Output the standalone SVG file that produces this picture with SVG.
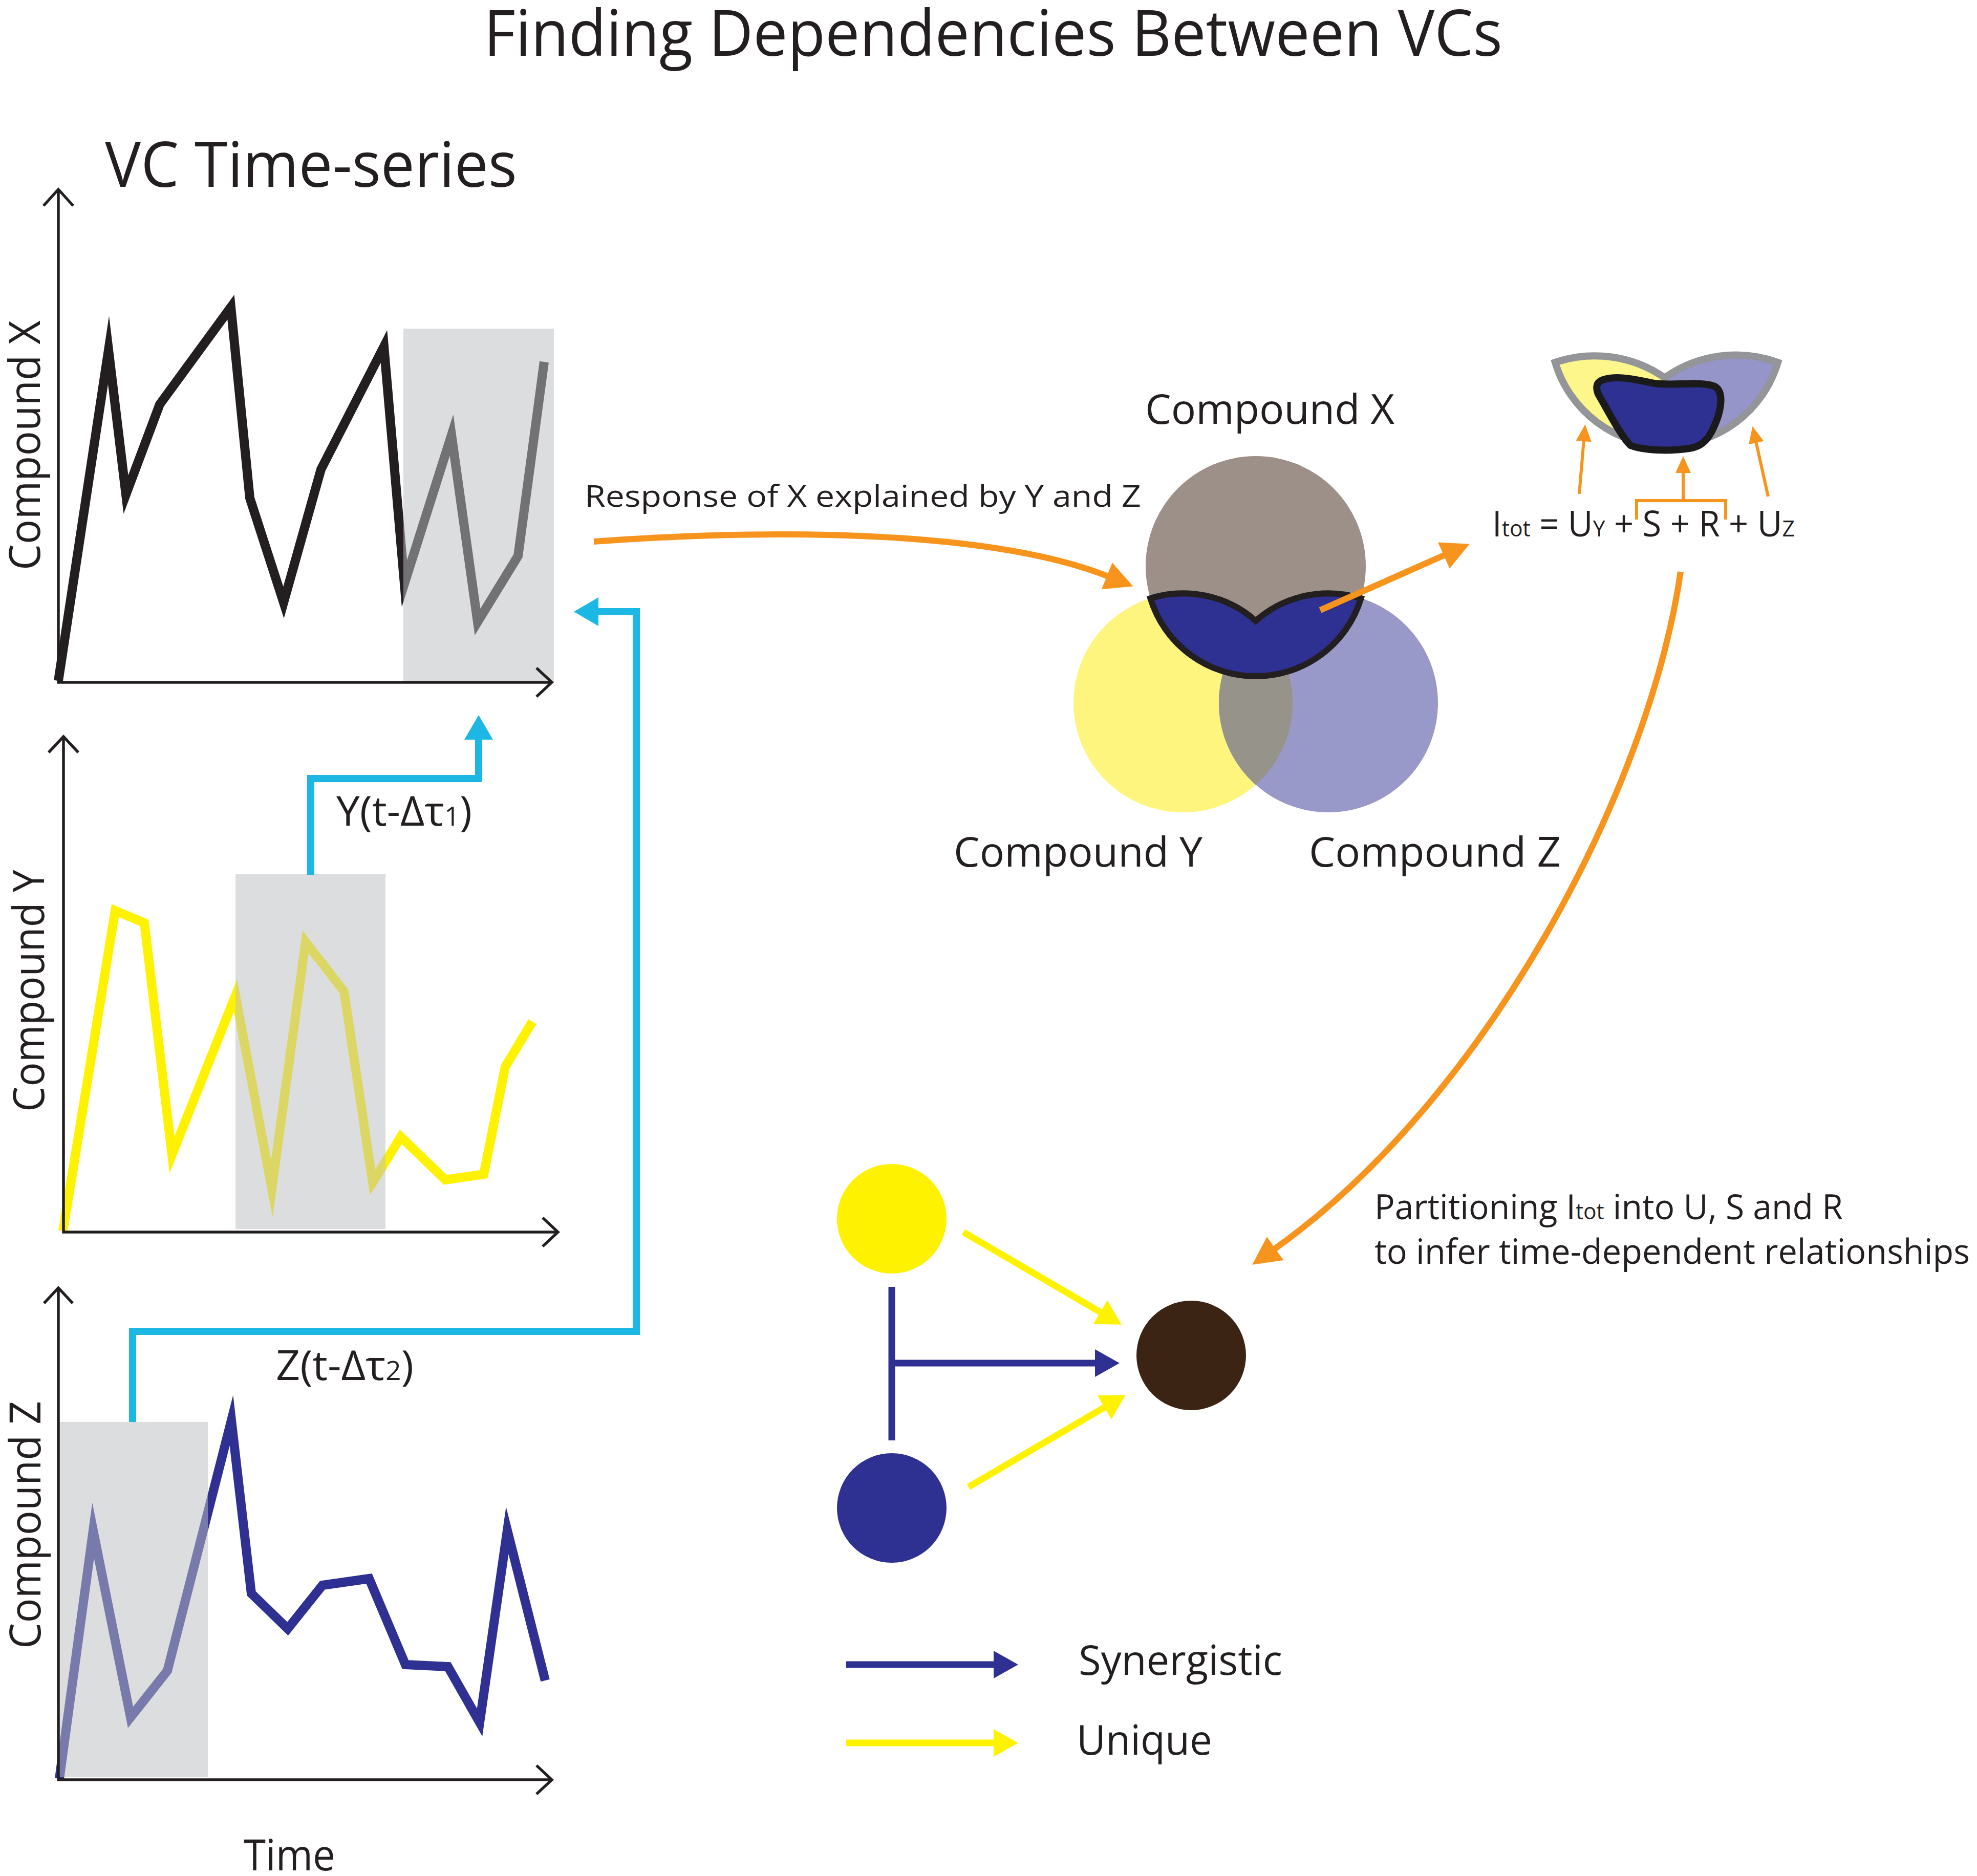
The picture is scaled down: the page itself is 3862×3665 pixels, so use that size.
<svg xmlns="http://www.w3.org/2000/svg" width="3862" height="3665" viewBox="0 0 3862 3665">
<style>
text{font-family:"Open Sans","Liberation Sans",sans-serif;fill:#231f20}
.axis{fill:none;stroke:#231f20;stroke-width:5.5;stroke-linecap:butt;stroke-linejoin:miter}
.series{fill:none;stroke-width:18;stroke-linejoin:miter;stroke-miterlimit:12;stroke-linecap:butt}
.shade{fill:#bcbec2;fill-opacity:0.52}
.cyan{fill:none;stroke:#1cb8e3;stroke-width:14;stroke-linejoin:miter}
.orange{fill:none;stroke:#f7941d;stroke-width:12}
.orange-thin{fill:none;stroke:#f7941d;stroke-width:6}
.syn{fill:none;stroke:#2e3192;stroke-width:13}
.uni{fill:none;stroke:#fff200;stroke-width:13}
</style>
<defs>
<marker id="mOrange" markerUnits="userSpaceOnUse" viewBox="0 -30 60 60" refX="5" refY="0" markerWidth="60" markerHeight="60" orient="auto" overflow="visible"><path d="M0,-28 L55,0 L0,28 Z" fill="#f7941d"/></marker>
<marker id="mOrangeS" markerUnits="userSpaceOnUse" viewBox="0 -16 36 32" refX="3" refY="0" markerWidth="36" markerHeight="32" orient="auto" overflow="visible"><path d="M0,-15 L33,0 L0,15 Z" fill="#f7941d"/></marker>
<marker id="mCyan" markerUnits="userSpaceOnUse" viewBox="0 -30 50 60" refX="3" refY="0" markerWidth="50" markerHeight="60" orient="auto" overflow="visible"><path d="M0,-28 L48,0 L0,28 Z" fill="#1cb8e3"/></marker>
<marker id="mBlue" markerUnits="userSpaceOnUse" viewBox="0 -30 50 60" refX="3" refY="0" markerWidth="50" markerHeight="60" orient="auto" overflow="visible"><path d="M0,-27 L48,0 L0,27 Z" fill="#2e3192"/></marker>
<marker id="mYellow" markerUnits="userSpaceOnUse" viewBox="0 -30 50 60" refX="3" refY="0" markerWidth="50" markerHeight="60" orient="auto" overflow="visible"><path d="M0,-27 L48,0 L0,27 Z" fill="#fff200"/></marker>
<clipPath id="heartClip"><path d="M3038,708 A240 240 0 0 1 3252,738 A240 240 0 0 1 3473,708 A227 227 0 0 1 3038,708 Z"/></clipPath>
</defs>
<rect width="3862" height="3665" fill="#ffffff"/>

<g id="title">
<text x="945" y="109" font-size="124" textLength="1990" lengthAdjust="spacingAndGlyphs">Finding Dependencies Between VCs</text>
<text x="205" y="365" font-size="123" textLength="805" lengthAdjust="spacingAndGlyphs">VC Time-series</text>
</g>

<g id="chart-x">
<polyline class="series" stroke="#231f20" points="114,1330 212,684 246,966 312,790 451,600 488,973 554,1177 627,917 750,677 790,1140 882,850 933,1215 1012,1086 1063,707"/>
<rect class="shade" x="788" y="642" width="294" height="691"/>
<polyline class="axis" points="114,370 114,1333 1078,1333"/>
<polyline class="axis" points="85,402 114,370 143,402"/>
<polyline class="axis" points="1048,1305 1078,1333 1048,1361"/>
<text transform="translate(78,1114) rotate(-90)" font-size="85" textLength="488" lengthAdjust="spacingAndGlyphs">Compound X</text>
</g>

<g id="chart-y">
<polyline class="series" stroke="#fff200" points="123,2405 225,1779 282,1803 336,2256 460,1945 531,2322 597,1840 672,1937 728,2310 783,2221 870,2305 945,2294 987,2084 1040,1996"/>
<rect class="shade" x="460" y="1707" width="293" height="694"/>
<polyline class="axis" points="124,1439 124,2407 1090,2407"/>
<polyline class="axis" points="95,1470 124,1439 153,1470"/>
<polyline class="axis" points="1060,2379 1090,2407 1060,2435"/>
<text transform="translate(86,2172) rotate(-90)" font-size="85" textLength="473" lengthAdjust="spacingAndGlyphs">Compound Y</text>
<text x="657" y="1613" font-size="81" textLength="265" lengthAdjust="spacingAndGlyphs">Y(t-Δτ<tspan font-size="52">1</tspan>)</text>
</g>

<g id="chart-z">
<polyline class="series" stroke="#2e3192" points="116,3475 182,2990 255,3355 327,3264 452,2775 491,3113 562,3182 630,3097 721,3084 792,3252 875,3256 937,3365 991,2990 1065,3283"/>
<rect class="shade" x="116" y="2778" width="290" height="694"/>
<polyline class="axis" points="114,2516 114,3477 1078,3477"/>
<polyline class="axis" points="86,2546 114,2516 142,2546"/>
<polyline class="axis" points="1048,3449 1078,3477 1048,3505"/>
<text transform="translate(79,3221) rotate(-90)" font-size="85" textLength="484" lengthAdjust="spacingAndGlyphs">Compound Z</text>
<text x="539" y="2696" font-size="81" textLength="269" lengthAdjust="spacingAndGlyphs">Z(t-Δτ<tspan font-size="52">2</tspan>)</text>
<text x="476" y="3654" font-size="84" textLength="179" lengthAdjust="spacingAndGlyphs">Time</text>
</g>

<g id="venn">
<circle cx="2311" cy="1373" r="214" fill="#fdf57e"/>
<circle cx="2595" cy="1373" r="214" fill="#9898c9"/>
<path d="M2453,1212.9 A214 214 0 0 1 2453,1533.1 A214 214 0 0 1 2453,1212.9 Z" fill="#96938a"/>
<circle cx="2453" cy="1106" r="215" fill="#9c9089"/>
<path d="M2247.4,1169 A214 214 0 0 1 2453,1212.9 A214 214 0 0 1 2658.6,1169 A215 215 0 0 1 2247.4,1169 Z" fill="#2e3192" stroke="#231f20" stroke-width="12" stroke-linejoin="miter"/>
<text x="2237" y="828" font-size="80" textLength="487" lengthAdjust="spacingAndGlyphs">Compound X</text>
<text x="1863" y="1693" font-size="80" textLength="486" lengthAdjust="spacingAndGlyphs">Compound Y</text>
<text x="2557" y="1693" font-size="80" textLength="492" lengthAdjust="spacingAndGlyphs">Compound Z</text>
</g>

<g id="pid-icon">
<g clip-path="url(#heartClip)">
<rect x="3020" y="680" width="233" height="210" fill="#fdf68a"/>
<rect x="3253" y="680" width="240" height="210" fill="#9595c9"/>
</g>
<path d="M3038,708 A240 240 0 0 1 3252,738 A240 240 0 0 1 3473,708 A227 227 0 0 1 3038,708 Z" fill="none" stroke="#939598" stroke-width="14" stroke-linejoin="miter"/>
<path d="M3127,744 C3150,732 3190,740 3232,749 C3270,754 3320,744 3350,755 C3368,765 3362,800 3352,825 C3342,850 3330,872 3300,876 C3260,882 3210,880 3185,870 C3165,850 3140,800 3122,770 C3117,757 3119,748 3127,744 Z" fill="#2e3192" stroke="#1a1a1a" stroke-width="14"/>
</g>

<g id="formula">
<text x="2915" y="1048" font-size="69" textLength="591" lengthAdjust="spacingAndGlyphs">I<tspan font-size="44">tot</tspan> = U<tspan font-size="44">Y</tspan> + S + R + U<tspan font-size="44">Z</tspan></text>
<text x="1142" y="990" font-size="58" textLength="1087" lengthAdjust="spacingAndGlyphs">Response of X explained by Y and Z</text>
<text x="2685" y="2382" font-size="67" textLength="915" lengthAdjust="spacingAndGlyphs">Partitioning I<tspan font-size="43">tot</tspan> into U, S and R</text>
<text x="2685" y="2469" font-size="67" textLength="1163" lengthAdjust="spacingAndGlyphs">to infer time-dependent relationships</text>
</g>

<g id="node-y"><circle cx="1742" cy="2381" r="107" fill="#fff200"/></g>
<g id="node-z"><circle cx="1742" cy="2946" r="107" fill="#2e3192"/></g>
<g id="node-x"><circle cx="2327" cy="2648" r="107" fill="#3c2415"/></g>

<g id="legend">
<path class="syn" d="M1653,3252 H1944" marker-end="url(#mBlue)"/>
<path class="uni" d="M1653,3405 H1944" marker-end="url(#mYellow)"/>
<text x="2107" y="3272" font-size="81" textLength="398" lengthAdjust="spacingAndGlyphs">Synergistic</text>
<text x="2103" y="3428" font-size="81" textLength="265" lengthAdjust="spacingAndGlyphs">Unique</text>
</g>

<g id="connectors">
<path class="cyan" d="M607,1709 V1521 H935 V1442" marker-end="url(#mCyan)"/>
<path class="cyan" d="M259,2778 V2601 H1243 V1195 H1166" marker-end="url(#mCyan)"/>
<path class="orange" d="M1160,1058 C1550,1030 1950,1040 2167,1127" marker-end="url(#mOrange)"/>
<path class="orange" d="M2579,1192 L2825,1083" marker-end="url(#mOrange)"/>
<path class="orange" d="M3283,1117 C3220,1550 2900,2150 2487,2442" marker-end="url(#mOrange)"/>
<path class="orange-thin" d="M3085,965 L3094,859" marker-end="url(#mOrangeS)"/>
<path class="orange-thin" d="M3288,978 L3288,921" marker-end="url(#mOrangeS)"/>
<path class="orange-thin" d="M3454,970 L3430,862" marker-end="url(#mOrangeS)"/>
<path class="orange-thin" d="M3197,1015 V978 H3371 V1015"/>
<path class="syn" d="M1742,2514 V2814"/>
<path class="syn" d="M1742,2663 H2142" marker-end="url(#mBlue)"/>
<path class="uni" d="M1882,2407 L2152,2565" marker-end="url(#mYellow)"/>
<path class="uni" d="M1892,2905 L2160,2748" marker-end="url(#mYellow)"/>
</g>
</svg>
